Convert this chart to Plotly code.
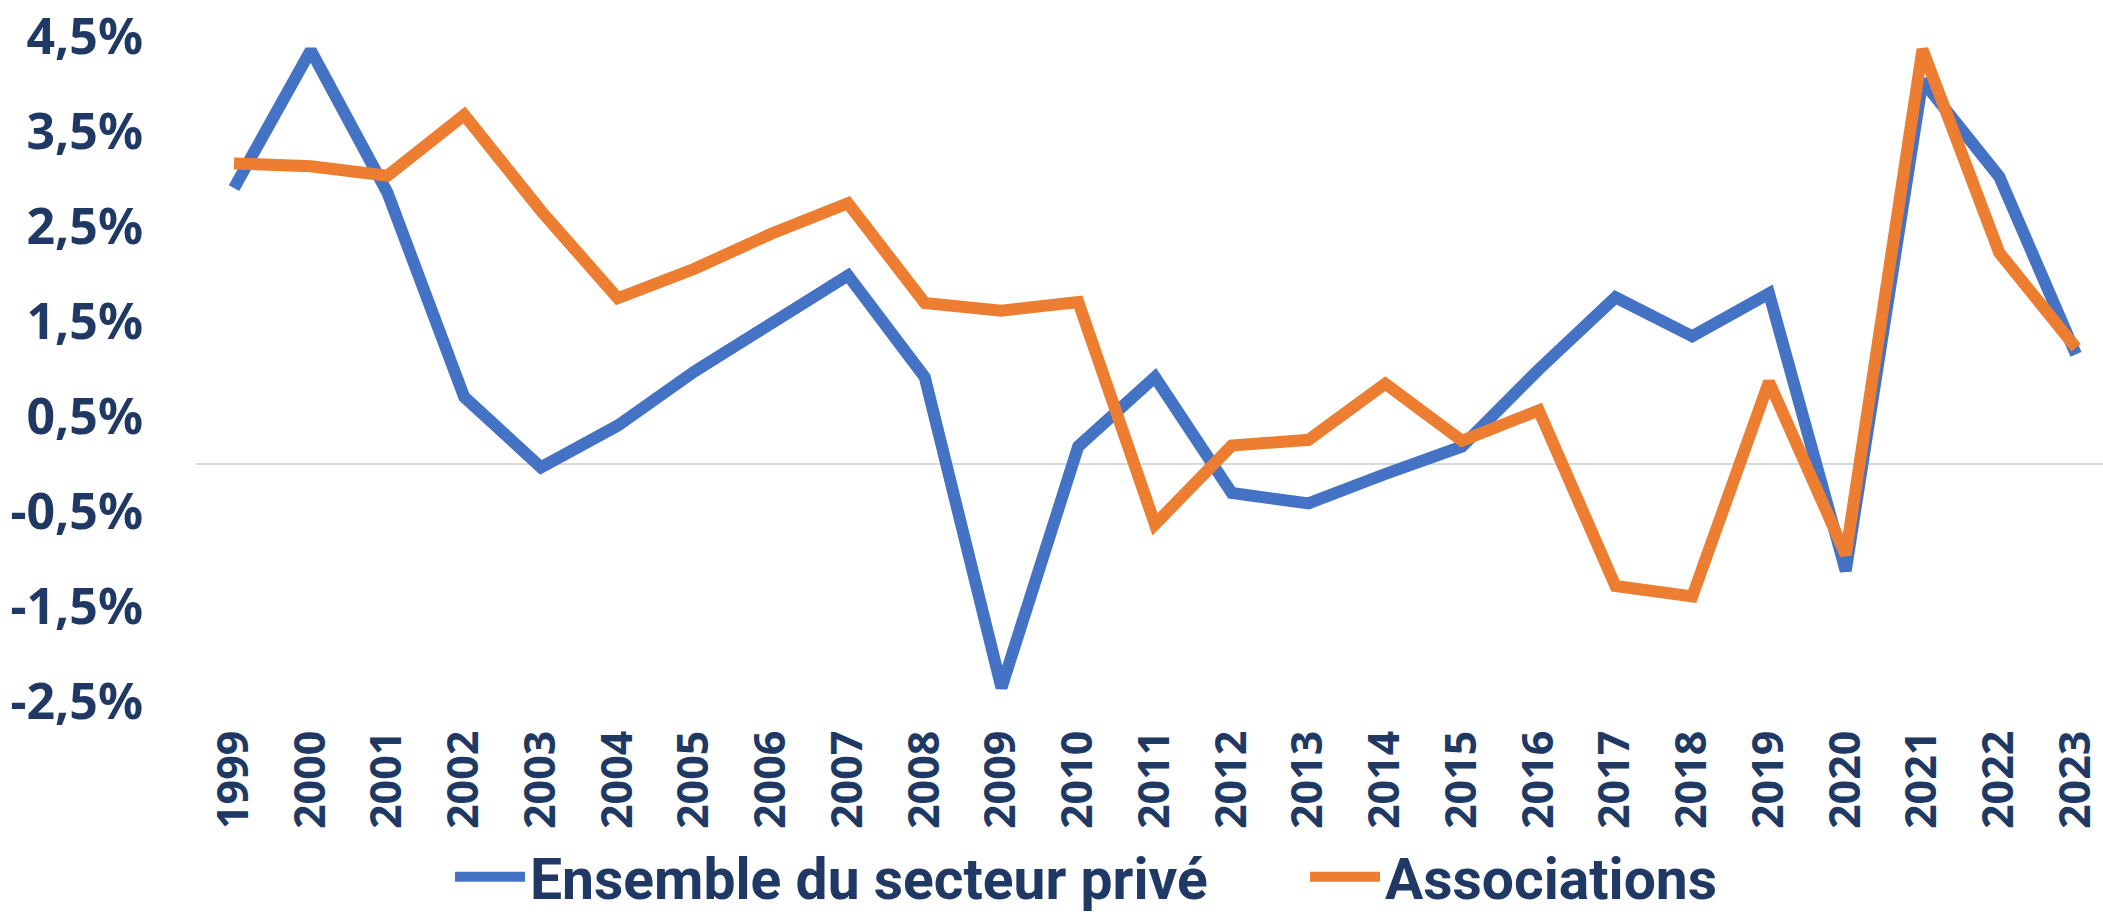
import plotly.graph_objects as go

years = [str(y) for y in range(1999, 2024)]
ensemble = [2.90, 4.35, 2.85, 0.70, -0.04, 0.40, 0.97, 1.47, 1.98, 0.91, -2.36, 0.18, 0.91,
            -0.31, -0.42, -0.11, 0.18, 0.99, 1.75, 1.34, 1.79, -1.13, 4.03, 3.02, 1.15]
associations = [3.16, 3.13, 3.03, 3.67, 2.66, 1.74, 2.05, 2.42, 2.74, 1.69, 1.61, 1.70, -0.64,
                0.19, 0.25, 0.84, 0.24, 0.56, -1.29, -1.40, 0.86, -0.96, 4.36, 2.22, 1.22]
ytick_vals = [-2.5, -1.5, -0.5, 0.5, 1.5, 2.5, 3.5, 4.5]
ytick_text = ["-2,5%", "-1,5%", "-0,5%", "0,5%", "1,5%", "2,5%", "3,5%", "4,5%"]

NAVY = "#203864"
xpos = list(range(len(years)))

fig = go.Figure()
fig.add_trace(go.Scatter(x=xpos, y=ensemble, mode="lines", name="Ensemble du secteur privé",
                         line=dict(color="#4472C4", width=12)))
fig.add_trace(go.Scatter(x=xpos, y=associations, mode="lines", name="Associations",
                         line=dict(color="#ED7D31", width=12)))

fig.update_layout(
    width=2103, height=912,
    margin=dict(l=196, r=0, t=36, b=211, autoexpand=False),
    paper_bgcolor="white", plot_bgcolor="white",
    showlegend=True,
    legend=dict(orientation="h", x=0.1332, xanchor="left", y=-0.265, yanchor="middle",
                font=dict(family="Roboto", size=57, color=NAVY, weight="bold"),
                itemwidth=70, entrywidth=770, entrywidthmode="pixels",
                bgcolor="rgba(0,0,0,0)"),
    xaxis=dict(range=[-0.495, 24.352], tickmode="array", tickvals=xpos, ticktext=years,
               tickangle=-90, showgrid=False, zeroline=False, showline=False, ticks="",
               ticklabelstandoff=20, ticklabeloverflow="allow",
               tickfont=dict(family="Noto Sans", size=43, color=NAVY, weight="bold")),
    yaxis=dict(range=[-2.5, 4.501], tickmode="array", tickvals=ytick_vals, ticktext=ytick_text,
               showgrid=False, zeroline=True, zerolinecolor="#D9D9D9", zerolinewidth=2,
               showline=False, ticks="", ticklabelstandoff=52, ticklabeloverflow="allow",
               tickfont=dict(family="Noto Sans", size=50, color=NAVY, weight="bold")),
)

fig.write_html("out.html", config={"displayModeBar": False},
               post_script="document.body.style.margin='0px';")
